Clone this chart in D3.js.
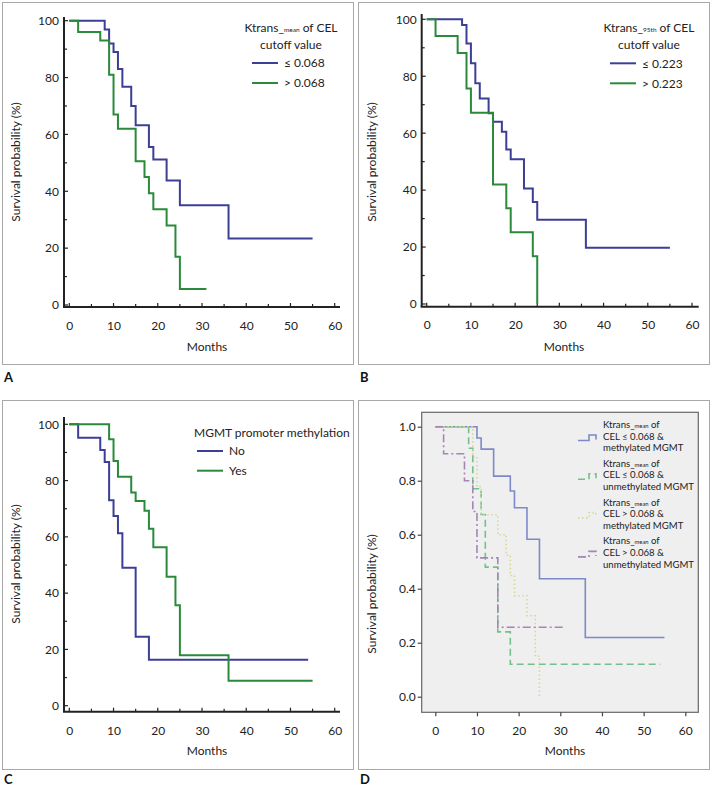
<!DOCTYPE html>
<html><head><meta charset="utf-8">
<script src="https://cdn.jsdelivr.net/npm/d3@7"></script>
<style>body{margin:0;background:#fff}svg{display:block}</style>
</head><body>
<svg id="c" width="713" height="787"></svg>
<script>
// ---------- data ----------
const monthTicks = [0,10,20,30,40,50,60];
const pctTicks = [0,20,40,60,80,100];
const probTicks = [0,0.2,0.4,0.6,0.8,1.0];

// Panel A: Ktrans_mean of CEL
const aLowT  = [0,8,9,10,11,12,14,15,18,19,22,25,36,55];
const aLowS  = [100,96.9,92,89,83,76.8,70,63.2,55.6,51.2,43.8,35.1,23.4,23.4];
const aHighT = [0,2,7,9,10,11,15,17,18,19,22,24,25,31];
const aHighS = [100,96,93,81,67,62,50.6,45,39.3,33.7,28,17,5.6,5.6];
// Panel B: Ktrans_95th of CEL
const bLowT  = [0,8,9,10,11,12,14,15,17,18,19,22,24,25,36,55];
const bLowS  = [100,98,91.5,84.6,77.5,72.2,67,64,60.5,54.3,50.8,40.6,35.8,29.6,19.8,19.8];
const bHighT = [0,2,7,9,10,15,18,19,24,25];
const bHighS = [100,94.1,88.2,75.7,67.2,42,33.6,25.2,16.8,0];
// Panel C: MGMT promoter methylation
const cNoT  = [0,2,7,8,9,10,11,12,15,18,54];
const cNoS  = [100,95.2,90.9,86.6,73,67.4,61.3,49,24.5,16.3,16.3];
const cYesT = [0,9,10,11,14,15,17,18,19,22,24,25,36,55];
const cYesS = [100,94.7,87,81.4,75.8,72.7,69.3,62.9,56.3,45.8,35.7,17.9,8.9,8.9];
// Panel D: combined groups
const dLowMethT = [0,10,11,14,18,19,22,25,36,55];
const dLowMethS = [1,0.958,0.917,0.817,0.762,0.70,0.583,0.437,0.219,0.219];
const dLowUnT   = [0,8,9,11,12,15,18,54];
const dLowUnS   = [1,0.92,0.77,0.675,0.48,0.24,0.12,0.12];
const dHighMethT = [0,9,10,11,15,17,18,19,22,24,25];
const dHighMethS = [1,0.889,0.778,0.674,0.60,0.524,0.449,0.374,0.30,0.15,0];
const dHighUnT  = [0,2,7,9,10,15,31];
const dHighUnS  = [1,0.9,0.8,0.686,0.514,0.257,0.257];

const FONT = "Lato, 'Open Sans', sans-serif";
const FS = 12;
const BLUE = "#3d3f96", GREEN = "#2a8a3a";
const svg = d3.select("#c");
svg.attr("font-family", FONT);

function zip(t, s){ return t.map((v,i)=>[v, s[i]]); }

// outer panel frames
[[2.5,2.5,351,362],[358.5,2.5,351,362],[2.5,400.5,351,369],[358.5,400.5,351,369]].forEach(b=>{
  svg.append("rect").attr("x",b[0]).attr("y",b[1]).attr("width",b[2]).attr("height",b[3])
    .attr("fill","none").attr("stroke","#a8a8a8").attr("stroke-width",1);
});
[["A",4,382],["B",360,382],["C",4,784],["D",360,784]].forEach(l=>{
  svg.append("text").attr("x",l[1]).attr("y",l[2]).text(l[0])
    .attr("font-size",13).attr("font-weight","bold").attr("fill","#111");
});

function kmPanel(cfg){
  const g = svg.append("g");
  const x = d3.scaleLinear().domain([0,60]).range(cfg.xr);
  const y = d3.scaleLinear().domain([0,100]).range(cfg.yr);
  g.append("line").attr("x1",cfg.ax).attr("x2",cfg.ax).attr("y1",cfg.top).attr("y2",cfg.ay)
    .attr("stroke","#222").attr("stroke-width",2);
  g.append("line").attr("x1",cfg.ax-1).attr("x2",cfg.right).attr("y1",cfg.ay).attr("y2",cfg.ay)
    .attr("stroke","#222").attr("stroke-width",2);
  d3.range(0,101,10).forEach(v=>{
    g.append("line").attr("x1",cfg.ax).attr("x2",cfg.ax+(v%20===0?4:3))
      .attr("y1",y(v)).attr("y2",y(v)).attr("stroke","#222").attr("stroke-width",1.2);
  });
  d3.range(0,61,5).forEach(v=>{
    g.append("line").attr("x1",x(v)).attr("x2",x(v))
      .attr("y1",cfg.ay).attr("y2",cfg.ay-(v%10===0?4:3)).attr("stroke","#222").attr("stroke-width",1.2);
  });
  const ya = g.append("g").attr("transform",`translate(${cfg.ax},0)`)
    .call(d3.axisLeft(y).tickValues(pctTicks).tickSize(0).tickPadding(5));
  const xa = g.append("g").attr("transform",`translate(0,${cfg.ay})`)
    .call(d3.axisBottom(x).tickValues(monthTicks).tickSize(0).tickPadding(cfg.xpad));
  [ya,xa].forEach(a=>{ a.select(".domain").remove();
    a.selectAll("text").attr("font-family",FONT).attr("font-size",FS).attr("fill","#222"); });
  g.append("text").attr("x",cfg.mx).attr("y",cfg.my).attr("text-anchor","middle")
    .attr("font-size",FS).attr("fill","#222").text("Months");
  g.append("text").attr("transform",`translate(${cfg.tx},${cfg.ty}) rotate(-90)`)
    .attr("text-anchor","middle").attr("font-size",FS).attr("fill","#222").text("Survival probability (%)");
  const line = d3.line().x(d=>x(d[0])).y(d=>y(d[1])).curve(d3.curveStepAfter);
  cfg.series.forEach(s=>{
    g.append("path").datum(zip(s.t,s.s)).attr("d",line).attr("fill","none")
      .attr("stroke",s.c).attr("stroke-width",2);
  });
  return g;
}

function kLabel(g, x, y, sub){
  const t = g.append("text").attr("x",x).attr("y",y).attr("text-anchor","middle")
    .attr("font-size",FS).attr("fill","#222");
  t.append("tspan").text("Ktrans_");
  t.append("tspan").attr("font-size",6.5).text(sub);
  t.append("tspan").text(" of CEL");
  return t;
}
function legendRows(g, x1, x2, tx, rows){
  rows.forEach(r=>{
    g.append("line").attr("x1",x1).attr("x2",x2).attr("y1",r.y).attr("y2",r.y)
      .attr("stroke",r.c).attr("stroke-width",2);
    g.append("text").attr("x",tx).attr("y",r.y+4.2).attr("font-size",FS).attr("fill","#222").text(r.label);
  });
}

// Panel A
const gA = kmPanel({xr:[69.3,334.7], yr:[305,20.7], ax:64, ay:307, top:17, right:340, xpad:14,
  mx:207, my:351, tx:20, ty:162,
  series:[{t:aLowT,s:aLowS,c:BLUE},{t:aHighT,s:aHighS,c:GREEN}]});
kLabel(gA, 291, 32, "mean");
gA.append("text").attr("x",291).attr("y",49).attr("text-anchor","middle").attr("font-size",FS).attr("fill","#222").text("cutoff value");
legendRows(gA, 252, 278, 284, [{y:63,c:BLUE,label:"≤ 0.068"},{y:83,c:GREEN,label:"> 0.068"}]);

// Panel B
const gB = kmPanel({xr:[426.7,692], yr:[304,19.3], ax:421.7, ay:306.7, top:14, right:698.7, xpad:14,
  mx:564, my:351, tx:376, ty:162,
  series:[{t:bLowT,s:bLowS,c:BLUE},{t:bHighT,s:bHighS,c:GREEN}]});
kLabel(gB, 649, 32, "95th");
gB.append("text").attr("x",649).attr("y",49).attr("text-anchor","middle").attr("font-size",FS).attr("fill","#222").text("cutoff value");
legendRows(gB, 610, 636, 642, [{y:63.3,c:BLUE,label:"≤ 0.223"},{y:83.3,c:GREEN,label:"> 0.223"}]);

// Panel C
const gC = kmPanel({xr:[69.3,334.7], yr:[705.7,424.3], ax:64, ay:711.7, top:417, right:340, xpad:15,
  mx:207, my:755, tx:20, ty:564,
  series:[{t:cNoT,s:cNoS,c:BLUE},{t:cYesT,s:cYesS,c:GREEN}]});
gC.append("text").attr("x",194).attr("y",437).attr("font-size",FS).attr("fill","#222").text("MGMT promoter methylation");
legendRows(gC, 197, 223, 229, [{y:451,c:BLUE,label:"No"},{y:470.7,c:GREEN,label:"Yes"}]);

// Panel D
(function(){
  const g = svg.append("g");
  const x = d3.scaleLinear().domain([0,60]).range([435.3,685.3]);
  const y = d3.scaleLinear().domain([0,1]).range([696.7,426.7]);
  g.append("rect").attr("x",421.7).attr("y",412.3).attr("width",276.6).attr("height",300)
    .attr("fill","#efefef").attr("stroke","#666").attr("stroke-width",1.2);
  const ya = g.append("g").attr("transform","translate(421.7,0)")
    .call(d3.axisLeft(y).tickValues(probTicks).tickSize(4).tickPadding(2).tickFormat(d3.format(".1f")));
  const xa = g.append("g").attr("transform","translate(0,712.3)")
    .call(d3.axisBottom(x).tickValues(monthTicks).tickSize(4).tickPadding(10));
  [ya,xa].forEach(a=>{ a.select(".domain").remove();
    a.selectAll("line").attr("stroke","#444").attr("stroke-width",1.2);
    a.selectAll("text").attr("font-family",FONT).attr("font-size",FS).attr("fill","#222"); });
  g.append("text").attr("x",565).attr("y",755).attr("text-anchor","middle")
    .attr("font-size",FS).attr("fill","#222").text("Months");
  g.append("text").attr("transform","translate(376,594) rotate(-90)")
    .attr("text-anchor","middle").attr("font-size",FS).attr("fill","#222").text("Survival probability (%)");
  const line = d3.line().x(d=>x(d[0])).y(d=>y(d[1])).curve(d3.curveStepAfter);
  const series = [
    {t:dLowMethT,s:dLowMethS,c:"#7d89c8",dash:null, l2:"CEL ≤ 0.068 &", l3:"methylated MGMT"},
    {t:dLowUnT,s:dLowUnS,c:"#74c08a",dash:"7,4", l2:"CEL ≤ 0.068 &", l3:"unmethylated MGMT"},
    {t:dHighMethT,s:dHighMethS,c:"#d5d89a",dash:"1.5,2.5", l2:"CEL > 0.068 &", l3:"methylated MGMT"},
    {t:dHighUnT,s:dHighUnS,c:"#a585b4",dash:"8,3,2,3", l2:"CEL > 0.068 &", l3:"unmethylated MGMT"}
  ];
  series.forEach(s=>{
    g.append("path").datum(zip(s.t,s.s)).attr("d",line).attr("fill","none")
      .attr("stroke",s.c).attr("stroke-width",1.6).attr("stroke-dasharray",s.dash);
  });
  const LF = 9.6;
  series.forEach((s,i)=>{
    const oy = 424.3 + i*38.8;
    const t1 = g.append("text").attr("x",603).attr("y",oy+3.6).attr("font-size",LF).attr("fill","#222");
    t1.append("tspan").text("Ktrans_");
    t1.append("tspan").attr("font-size",5.8).text("mean");
    t1.append("tspan").text(" of");
    g.append("text").attr("x",603).attr("y",oy+15.3).attr("font-size",LF).attr("fill","#222").text(s.l2);
    g.append("text").attr("x",603).attr("y",oy+26.9).attr("font-size",LF).attr("fill","#222").text(s.l3);
    const iy = oy + 11.7;
    g.append("path").attr("d",`M578,${iy+4.5}H589V${iy-1}H596V${iy+3.5}`)
      .attr("fill","none").attr("stroke",s.c).attr("stroke-width",1.6).attr("stroke-dasharray",s.dash);
  });
})();
</script>
</body></html>
